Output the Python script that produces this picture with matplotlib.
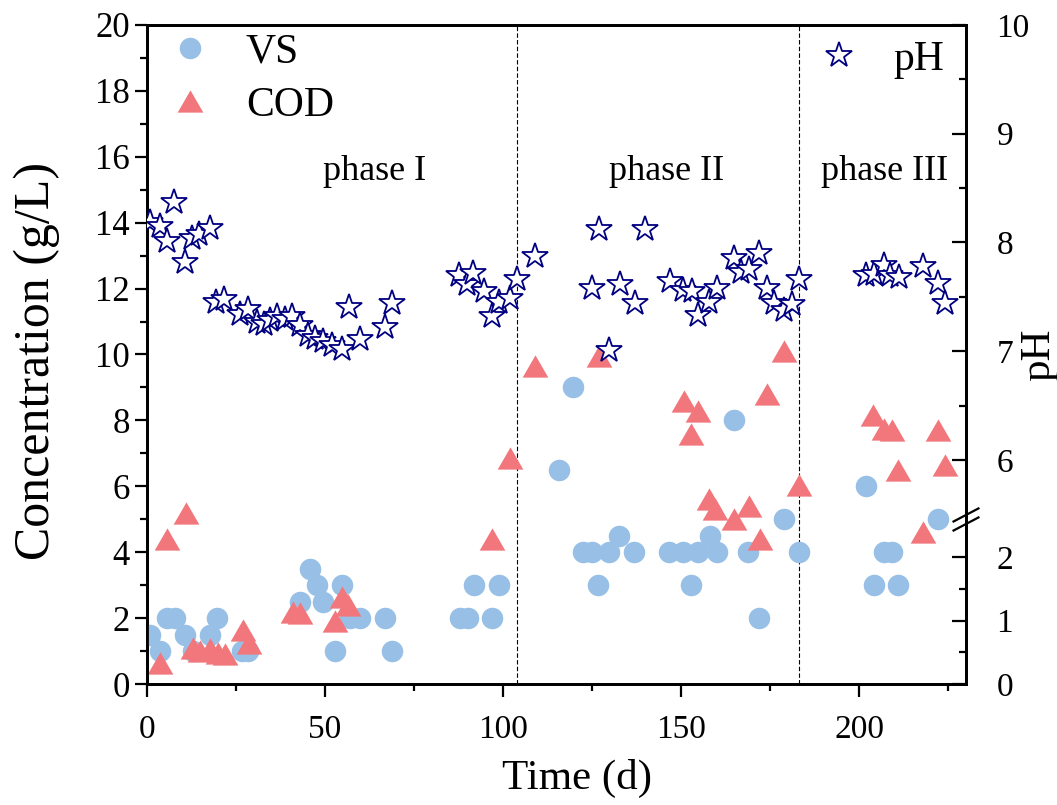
import numpy as np
import matplotlib
matplotlib.use("Agg")
import matplotlib.pyplot as plt
from matplotlib.lines import Line2D

plt.rcParams['font.family'] = ['Liberation Serif', 'DejaVu Serif']

# ---------------- data ----------------
vs_day = [0.9, 3.7, 5.7, 7.9, 10.8, 13.0, 17.8, 19.7, 26.8, 28.5, 43.1, 45.9, 47.9, 49.5,
          52.9, 54.9, 57.1, 59.9, 66.9, 68.9, 88.0, 90.2, 91.9, 97.0, 99.0,
          115.8, 119.7, 122.5, 125.0, 126.7, 129.8, 132.6, 136.9, 146.7, 150.6, 152.9,
          154.9, 158.0, 160.0, 165.0, 168.9, 172.0, 179.0, 183.0,
          202.0, 204.1, 206.9, 209.1, 210.9, 222.1]
vs_val = [1.5, 1.0, 2.0, 2.0, 1.5, 1.0, 1.5, 2.0, 1.0, 1.0, 2.5, 3.5, 3.0, 2.5,
          1.0, 3.0, 2.0, 2.0, 2.0, 1.0, 2.0, 2.0, 3.0, 2.0, 3.0,
          6.5, 9.0, 4.0, 4.0, 3.0, 4.0, 4.5, 4.0, 4.0, 4.0, 3.0,
          4.0, 4.5, 4.0, 8.0, 4.0, 2.0, 5.0, 4.0,
          6.0, 3.0, 4.0, 4.0, 3.0, 5.0]

cod_day = [3.8, 5.8, 10.9, 12.9, 15.0, 17.8, 20.1, 22.0, 26.9, 28.8, 41.0, 42.9, 52.9,
           54.8, 56.6, 96.9, 101.9, 109.1, 126.9, 150.9, 152.9, 154.9, 157.9, 159.6,
           165.0, 169.0, 172.1, 174.0, 179.0, 183.0, 203.8, 206.9, 209.1, 210.9, 218.0,
           222.1, 224.0]
cod_val = [0.65, 4.4, 5.2, 1.1, 1.0, 1.05, 0.95, 0.9, 1.65, 1.25, 2.2, 2.15, 1.9,
           2.65, 2.4, 4.4, 6.85, 9.65, 9.95, 8.6, 7.6, 8.3, 5.6, 5.3,
           5.0, 5.4, 4.4, 8.8, 10.1, 6.05, 8.15, 7.75, 7.7, 6.5, 4.6,
           7.7, 6.65]

ph_day = [0.9, 3.7, 5.8, 7.8, 10.8, 12.6, 14.7, 17.8, 19.5, 21.8, 26.2, 28.5, 30.9, 32.8,
          34.6, 36.5, 38.8, 40.7, 43.1, 45.4, 47.3, 49.6, 52.0, 54.8, 56.9, 59.9, 66.9, 68.8,
          87.6, 89.9, 91.7, 94.7, 96.9, 98.8, 102.0, 103.9, 108.9,
          125.0, 126.9, 129.9, 132.9, 137.0, 140.0, 146.8, 150.6, 153.1, 154.9, 157.8,
          160.0, 164.8, 166.7, 169.0, 172.0, 174.0, 176.0, 178.8, 181.2, 183.0,
          201.8, 204.1, 207.1, 208.8, 211.1, 218.0, 222.1, 224.0]
ph_val = [8.19, 8.15, 8.01, 8.37, 7.82, 8.04, 8.08, 8.13, 7.45, 7.48, 7.34, 7.39, 7.27, 7.25,
          7.29, 7.32, 7.30, 7.32, 7.24, 7.15, 7.12, 7.09, 7.06, 7.02, 7.41, 7.11, 7.22, 7.44,
          7.70, 7.62, 7.72, 7.55, 7.32, 7.45, 7.49, 7.66, 7.88,
          7.58, 8.12, 7.01, 7.62, 7.44, 8.12, 7.65, 7.56, 7.55, 7.33, 7.45,
          7.58, 7.86, 7.73, 7.76, 7.90, 7.58, 7.44, 7.38, 7.43, 7.66,
          7.70, 7.71, 7.79, 7.70, 7.68, 7.78, 7.63, 7.44]

phase_bounds = [104, 183]
phase_labels = ["phase I", "phase II", "phase III"]
phase_label_x = [64, 146, 207]

x_ticks = [0, 50, 100, 150, 200]
left_ticks = list(range(0, 21, 2))
ph_major = [0, 1, 2, 6, 7, 8, 9, 10]
ph_minor = [0.5, 1.5, 6.5, 7.5, 8.5, 9.5]

# ---------------- broken pH scale ----------------
LOW_K = 1.925          # conc units per pH unit, lower segment (0 - 2.5)
UP_K = 3.3             # conc units per pH unit, upper segment (5.5 - 10)
LOW_END, UP_START = 2.5, 5.5
c_low = LOW_K * LOW_END
c_up = 20 - UP_K * (10 - UP_START)


def fwd(p):
    p = np.asarray(p, dtype=float)
    return np.where(p <= LOW_END, LOW_K * p,
                    np.where(p >= UP_START, 20 - UP_K * (10 - p),
                             c_low + (p - LOW_END) * (c_up - c_low) / (UP_START - LOW_END)))


def inv(c):
    c = np.asarray(c, dtype=float)
    return np.where(c <= c_low, c / LOW_K,
                    np.where(c >= c_up, 10 - (20 - c) / UP_K,
                             LOW_END + (c - c_low) * (UP_START - LOW_END) / (c_up - c_low)))


# ---------------- figure ----------------
fig = plt.figure(figsize=(10.57, 8.05), dpi=100)
ax = fig.add_axes([146.7 / 1057, 1 - 684 / 805, (966 - 146.7) / 1057, (684 - 25) / 805])

vs_color = '#98C0E6'
cod_color = '#F2777C'
ph_color = '#000080'

tri = [(-1, -0.866), (1, -0.866), (0, 0.866), (-1, -0.866)]

ax.plot(vs_day, vs_val, linestyle='none', marker='o', markersize=15.5,
        markerfacecolor=vs_color, markeredgecolor='none', zorder=3)
ax.plot(cod_day, cod_val, linestyle='none', marker=tri, markersize=18.5,
        markerfacecolor=cod_color, markeredgecolor='none', zorder=4)

for xb in phase_bounds:
    ax.axvline(xb, color='black', linestyle=(0, (4, 2)), linewidth=0.8, zorder=1)

for lab, xl in zip(phase_labels, phase_label_x):
    ax.text(xl, 15.55, lab, fontsize=26, ha='center', va='center')

ax.set_xlim(0, 230)
ax.set_ylim(0, 20)
ax.set_xticks(x_ticks)
ax.set_xticks([25, 75, 125, 175, 225], minor=True)
ax.set_yticks(left_ticks)
ax.set_yticks(list(range(1, 20, 2)), minor=True)
ax.tick_params(axis='both', which='major', direction='out', length=9, width=1.6,
               labelsize=25, pad=3)
ax.tick_params(axis='both', which='minor', direction='out', length=5, width=1.6)
ax.tick_params(axis='x', which='major', pad=13, labelsize=24)
for s in ax.spines.values():
    s.set_linewidth(2.0)

ax.set_xlabel("Time (d)", fontsize=31)
ax.xaxis.set_label_coords(0.525, -0.114)
ax.set_ylabel("Concentration (g/L)", fontsize=36)
ax.yaxis.set_label_coords(-0.106, 0.49)

# twin axis for pH
ax2 = ax.twinx()
ax2.set_yscale('function', functions=(fwd, inv))
ax2.set_ylim(0, 10)
ax2.plot(ph_day, ph_val, linestyle='none', marker='*', markersize=19,
         markerfacecolor='white', markeredgecolor=ph_color, markeredgewidth=1.3, zorder=5)
ax2.set_yticks(ph_major)
ax2.set_yticklabels([str(v) for v in ph_major])
ax2.set_yticks(ph_minor, minor=True)
ax2.yaxis.set_minor_formatter(matplotlib.ticker.NullFormatter())
ax2.tick_params(axis='y', which='major', direction='in', length=10, width=1.6,
                labelsize=24, pad=22)
ax2.tick_params(axis='y', which='minor', direction='in', length=5, width=1.6)
for s in ax2.spines.values():
    s.set_linewidth(2.0)
ax2.set_ylabel("pH", fontsize=31, rotation=90)
ax2.yaxis.set_label_coords(1.066, 0.5)

# axis break marks on right spine
for yc in (0.2565, 0.2428):
    ax2.plot([0.9848, 1.0152], [yc - 0.0099, yc + 0.0099], transform=ax2.transAxes,
             color='black', linewidth=1.6, clip_on=False, zorder=10)

# legends
h_vs = Line2D([], [], linestyle='none', marker='o', markersize=15.5,
              markerfacecolor=vs_color, markeredgecolor='none')
h_cod = Line2D([], [], linestyle='none', marker=tri, markersize=18.5,
               markerfacecolor=cod_color, markeredgecolor='none')
leg1 = ax2.legend([h_vs, h_cod], ["VS", "COD"], loc='upper left',
                  bbox_to_anchor=(0.027, 0.988), frameon=False, fontsize=30,
                  borderpad=0, borderaxespad=0, handlelength=1.0, handletextpad=0.85,
                  labelspacing=0.36)
ax2.add_artist(leg1)
h_ph = Line2D([], [], linestyle='none', marker='*', markersize=19,
              markerfacecolor='white', markeredgecolor=ph_color, markeredgewidth=1.3)
ax2.legend([h_ph], ["pH"], loc='upper left', bbox_to_anchor=(0.820, 0.977),
           frameon=False, fontsize=30, borderpad=0, borderaxespad=0,
           handlelength=1.0, handletextpad=0.8)

fig.savefig("out.png", dpi=100)
